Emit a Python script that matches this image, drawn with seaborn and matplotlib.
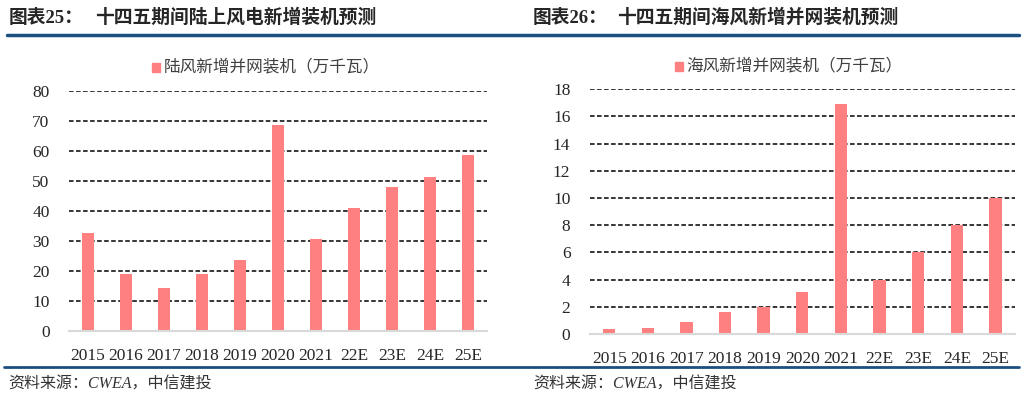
import matplotlib
matplotlib.use("Agg")
import matplotlib.pyplot as plt
import seaborn as sns
from matplotlib.lines import Line2D

years = ['2015', '2016', '2017', '2018', '2019', '2020', '2021', '22E', '23E', '24E', '25E']
onshore = [32.6, 18.8, 14.2, 19.0, 23.5, 68.6, 30.7, 41.0, 47.8, 51.2, 58.5]
offshore = [0.36, 0.45, 0.88, 1.61, 2.0, 3.06, 16.9, 4.0, 6.0, 8.0, 10.0]

sns.set_theme(style='white')
plt.rcParams['font.family'] = ['Liberation Serif', 'Noto Sans CJK SC']

bar_color = '#FF8080'
navy = '#1B4F7F'
cjk = ['Noto Sans CJK SC', 'DejaVu Sans']
serif = ['Liberation Serif', 'Noto Sans CJK SC']

fig = plt.figure(figsize=(10.24, 3.93), dpi=100)


def panel(rect, values, ymax, step, legend_text, legend_x, legend_y, width):
    ax = fig.add_axes(rect)
    sns.barplot(x=years, y=values, color=bar_color, width=width, ax=ax,
                saturation=1, edgecolor='none')
    ax.set_ylim(0, ymax)
    ax.set_yticks(range(0, ymax + 1, step))
    ax.set_xlim(-0.5, len(years) - 0.5)
    for t in range(step, ymax + 1, step):
        ax.axhline(t, color='black', ls=(0, (3, 1.6)), lw=1.1, zorder=0)
    for s in ['top', 'right', 'left']:
        ax.spines[s].set_visible(False)
    ax.spines['bottom'].set_color('#D9D9D9')
    ax.spines['bottom'].set_linewidth(1.5)
    ax.tick_params(axis='both', length=0, labelsize=12.5)
    ax.tick_params(axis='x', pad=12)
    ax.tick_params(axis='y', pad=14)
    for lab in ax.get_xticklabels() + ax.get_yticklabels():
        lab.set_family(serif)
    ax.set_xlabel('')
    ax.set_ylabel('')
    # legend
    fig.patches.append(plt.Rectangle((legend_x, legend_y - 0.012), 0.0075, 0.022,
                                     transform=fig.transFigure, color=bar_color))
    fig.text(legend_x + 0.011, legend_y, legend_text, family=cjk, fontsize=12,
             color='#404040', va='center', ha='left')
    return ax


panel([0.0674, 0.158, 0.408, 0.611], onshore, 80, 10,
      '陆风新增并网装机（万千瓦）', 0.1485, 0.829, 0.32)
panel([0.576, 0.150, 0.415, 0.623], offshore, 18, 2,
      '海风新增并网装机（万千瓦）', 0.6595, 0.832, 0.32)

# titles
tfont = dict(family=serif, fontsize=13.5, fontweight='bold', va='center')
fig.text(0.008, 0.955, '图表25：', **tfont)
fig.text(0.093, 0.955, '十四五期间陆上风电新增装机预测', **tfont)
fig.text(0.520, 0.955, '图表26：', **tfont)
fig.text(0.603, 0.955, '十四五期间海风新增并网装机预测', **tfont)

# rules
fig.add_artist(Line2D([0.007, 0.995], [0.911, 0.911], color=navy, lw=2.5,
                      transform=fig.transFigure))
fig.add_artist(Line2D([0.004, 0.995], [0.066, 0.066], color=navy, lw=2,
                      transform=fig.transFigure))

# sources
fig.text(0.008, 0.022, '资料来源：CWEA，中信建投', family=serif, style='italic',
         fontsize=11.5, color='#333333', va='center')
fig.text(0.521, 0.022, '资料来源：CWEA，中信建投', family=serif, style='italic',
         fontsize=11.5, color='#333333', va='center')

fig.savefig('out.png', dpi=100)
